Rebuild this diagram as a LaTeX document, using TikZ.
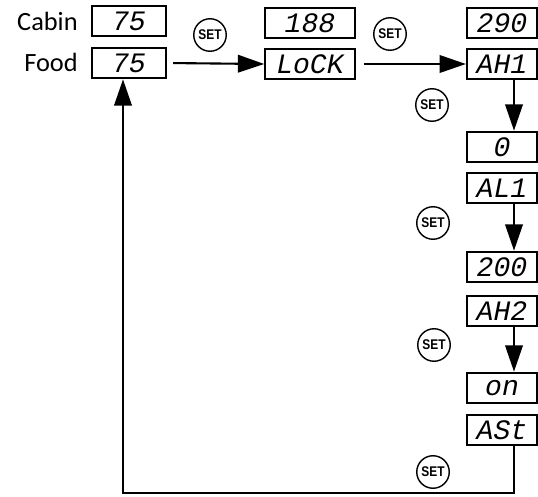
\documentclass[tikz,border=0pt]{standalone}
\usepackage{fontspec}
\setmainfont{Carlito}
\newfontfamily\segfont{Liberation Mono}
\newfontfamily\keyfont{Liberation Sans}[FakeStretch=0.85]
\usetikzlibrary{arrows.meta,positioning}

\begin{document}
\begin{tikzpicture}[x=0.02cm,y=-0.02cm,
    disp/.style={draw,line width=1.1pt,minimum height=17.5pt,inner sep=0pt,
      font=\segfont\itshape\fontsize{16}{16}\selectfont},
    setkey/.style={circle,draw,line width=0.8pt,minimum size=18.5pt,inner sep=0pt,
      font=\keyfont\bfseries\fontsize{8}{8}\selectfont},
    flow/.style={line width=1.2pt,-{Triangle[length=15pt,width=10pt]}},
    lbl/.style={anchor=east,inner sep=0pt,font=\fontsize{15}{16}\selectfont}]
  \useasboundingbox (0,0) rectangle (538,497);
  % Labels
  \node[lbl] (cabinlbl) at (78,21) {Cabin};
  \node[lbl] (foodlbl) at (78,62) {Food};
  % Displays
  \node[disp,minimum width=42pt] (cabin) at (129,21) {75};
  \node[disp,minimum width=42pt] (food) at (129,63) {75};
  \node[disp,minimum width=51pt] (lockval) at (310,23) {188};
  \node[disp,minimum width=51pt] (lock) at (310,64) {LoCK};
  \node[disp,minimum width=40pt] (ahval) at (502,23) {290};
  \node[disp,minimum width=40pt] (ahone) at (502,64) {AH1};
  \node[disp,minimum width=40pt] (zero) at (502,147) {0};
  \node[disp,minimum width=40pt] (alone) at (502,188) {AL1};
  \node[disp,minimum width=40pt] (twohund) at (502,267) {200};
  \node[disp,minimum width=40pt] (ahtwo) at (502,311) {AH2};
  \node[disp,minimum width=40pt] (onval) at (502,388) {on};
  \node[disp,minimum width=40pt] (ast) at (502,430) {ASt};
  % SET keys
  \node[setkey] (setA) at (210,35) {SET};
  \node[setkey] (setB) at (390,34) {SET};
  \node[setkey] (setC) at (432,105) {SET};
  \node[setkey] (setD) at (433,223) {SET};
  \node[setkey] (setE) at (434,345) {SET};
  \node[setkey] (setF) at (433,472) {SET};
  % Connectors
  \coordinate (arrx) at (514,0);
  \coordinate (bend) at (123,493);
  \draw[flow,shorten <=3.5pt] (food.east) -- (lock.west);
  \draw[flow,shorten <=4.5pt] (lock.east) -- (ahone.west);
  \draw[flow] (ahone.south -| arrx) -- (zero.north -| arrx);
  \draw[flow] (alone.south -| arrx) -- (twohund.north -| arrx);
  \draw[flow] (ahtwo.south -| arrx) -- (onval.north -| arrx);
  \draw[flow] (ast.south -| arrx) |- (bend) -- (bend |- food.south);
\end{tikzpicture}
\end{document}
